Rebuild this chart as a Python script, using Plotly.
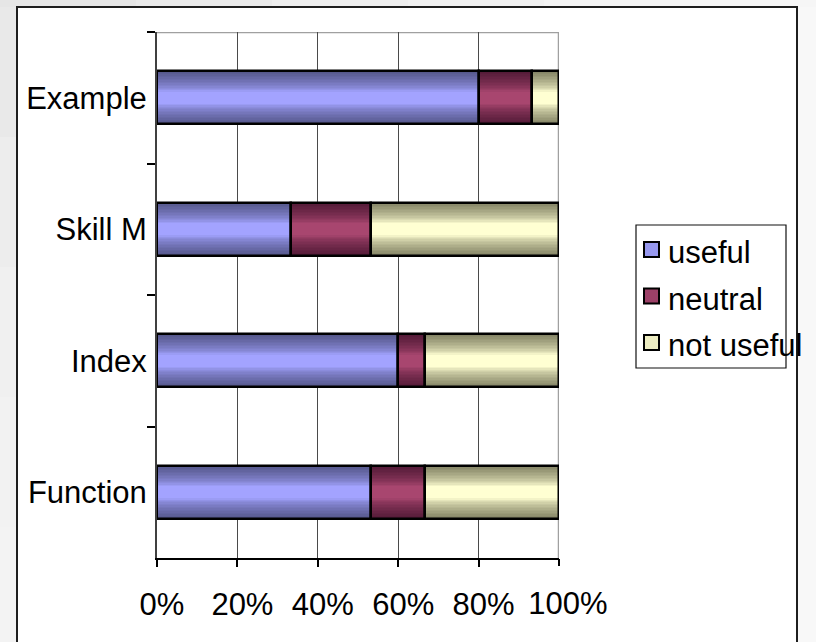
import plotly.graph_objects as go

# Survey answers, share of respondents (%)
categories = ["Example", "Skill M", "Index", "Function"]
useful = [80.0, 33.3, 60.0, 53.3]
neutral = [13.3, 20.0, 6.7, 13.3]
not_useful = [6.7, 46.7, 33.3, 33.3]
series_names = ["useful", "neutral", "not useful"]
x_ticks = [0, 20, 40, 60, 80, 100]
x_tick_labels = ["0%", "20%", "40%", "60%", "80%", "100%"]

# Colours: dark band at the bar edges, light band through the middle
edge_colors = ["#56588c", "#551b38", "#858566"]
center_colors = ["#a3a3ff", "#a8466f", "#ffffd2"]

FONT = "Liberation Sans, Arial, sans-serif"
W, H = 816, 642
ML, MR, MT, MB = 157, 257, 32, 84
PW, PH = W - ML - MR, H - MT - MB
BAR_W = 0.4
N_LAYERS = 18


def hex_rgb(h):
    h = h.lstrip("#")
    return tuple(int(h[i:i + 2], 16) for i in (0, 2, 4))


def mix(c1, c2, t):
    a, b = hex_rgb(c1), hex_rgb(c2)
    return "rgb(%d,%d,%d)" % tuple(round(a[i] + (b[i] - a[i]) * t) for i in range(3))


def px(xp):
    return (xp - ML) / PW


def py(yp):
    return (MT + PH - yp) / PH


series = [useful, neutral, not_useful]
bases = []
running = [0.0] * len(categories)
for vals in series:
    bases.append(list(running))
    running = [r + v for r, v in zip(running, vals)]

fig = go.Figure()

# Shaded segments: nested bars, each narrower and lighter than the one below
for k in range(N_LAYERS):
    frac = (N_LAYERS - k) / N_LAYERS
    width = BAR_W * frac
    shade = min(1.0, max(0.0, (frac - 0.25) / 0.75)) ** 0.7
    for s, vals in enumerate(series):
        fig.add_trace(go.Bar(
            y=categories, x=vals, base=bases[s], orientation="h",
            width=width, marker=dict(color=mix(center_colors[s], edge_colors[s], shade),
                                     line=dict(width=0)),
            showlegend=False, hoverinfo="skip",
        ))

# Black outline round every segment
for s, vals in enumerate(series):
    fig.add_trace(go.Bar(
        y=categories, x=vals, base=bases[s], orientation="h", width=BAR_W,
        name=series_names[s],
        marker=dict(color="rgba(0,0,0,0)", line=dict(color="black", width=2.5)),
        showlegend=False,
    ))

shapes = []
# page shading around the chart frame
for i, c in enumerate(["#e6e6e6", "#eaeaea", "#eeeeee", "#f1f1f1", "#f4f4f4", "#f6f6f6"]):
    shapes.append(dict(type="rect", xref="paper", yref="paper",
                       x0=px(i * 136), x1=px((i + 1) * 136), y0=py(0), y1=py(7),
                       fillcolor=c, line=dict(width=0), layer="below"))
for i, c in enumerate(["#e9e9e9", "#ededed", "#f0f0f0", "#f2f2f2", "#f3f3f3"]):
    shapes.append(dict(type="rect", xref="paper", yref="paper",
                       x0=px(0), x1=px(17), y0=py(7 + i * 130), y1=py(7 + (i + 1) * 130),
                       fillcolor=c, line=dict(width=0), layer="below"))
shapes.append(dict(type="rect", xref="paper", yref="paper", x0=px(797), x1=px(816), y0=py(7), y1=py(642),
                   fillcolor="#f8f8f8", line=dict(width=0), layer="below"))
shapes += [
    # chart frame
    dict(type="rect", xref="paper", yref="paper", x0=px(17), x1=px(797), y0=py(7), y1=py(700),
         fillcolor="white", line=dict(color="#1e1e1e", width=2), layer="below"),
    # plot area border (grey, top and right)
    dict(type="line", xref="x", yref="y", x0=0, x1=100, y0=-0.5, y1=-0.5,
         line=dict(color="#a0a0a0", width=2.5), layer="below"),
    dict(type="line", xref="x", yref="y", x0=100, x1=100, y0=-0.5, y1=3.5,
         line=dict(color="#a0a0a0", width=2.5), layer="below"),
    # legend box
    dict(type="rect", xref="paper", yref="paper", x0=px(636), x1=px(786), y0=py(225), y1=py(368),
         line=dict(color="#111111", width=1.2), fillcolor="white", layer="above"),
]

annotations = []
legend_rows = [249.5, 296, 342.5]
for s, yc in enumerate(legend_rows):
    shapes.append(dict(type="rect", xref="paper", yref="paper",
                       x0=px(644), x1=px(659), y0=py(yc - 7.5), y1=py(yc + 7.5),
                       fillcolor=mix(center_colors[s], edge_colors[s], 0.15),
                       line=dict(color="black", width=2), layer="above"))
    annotations.append(dict(xref="paper", yref="paper", x=px(666), y=py(yc + 3), xanchor="left",
                            yanchor="middle", text=series_names[s], showarrow=False,
                            font=dict(family=FONT, size=31, color="black")))

fig.update_layout(
    width=W, height=H,
    margin=dict(l=ML, r=MR, t=MT, b=MB, pad=0),
    barmode="overlay",
    bargap=0,
    paper_bgcolor="#f2f2f2",
    plot_bgcolor="white",
    showlegend=False,
    font=dict(family=FONT, size=31, color="black"),
    shapes=shapes,
    annotations=annotations,
    xaxis=dict(
        range=[0, 100], tickvals=x_ticks[:-1], ticktext=x_tick_labels[:-1],
        showgrid=True, gridcolor="#4a4a4a", gridwidth=1, zeroline=False,
        showline=True, linecolor="black", linewidth=2,
        ticks="outside", ticklen=7, tickcolor="black", tickwidth=1.5,
        ticklabelstandoff=11, ticklabelshift=5, tickfont=dict(size=31),
    ),
    xaxis2=dict(
        overlaying="x", matches="x", side="bottom", anchor="y",
        tickvals=x_ticks[-1:], ticktext=x_tick_labels[-1:], showgrid=False,
        zeroline=False, showline=False,
        ticks="outside", ticklen=7, tickcolor="black", tickwidth=1.5,
        ticklabelstandoff=11, ticklabelshift=9, tickfont=dict(size=31),
    ),
    yaxis=dict(
        type="category", categoryorder="array", categoryarray=categories,
        range=[3.5, -0.5], showgrid=False, zeroline=False,
        showline=True, linecolor="#404040", linewidth=2,
        ticks="outside", tickson="boundaries", ticklen=8, tickcolor="black", tickwidth=1.5,
        ticklabelstandoff=2, tickfont=dict(size=31),
    ),
)

# an empty trace keeps the secondary x axis (100% tick) on the page
fig.add_trace(go.Scatter(x=[], y=[], xaxis="x2", yaxis="y", showlegend=False))

fig.write_html("out.html")
